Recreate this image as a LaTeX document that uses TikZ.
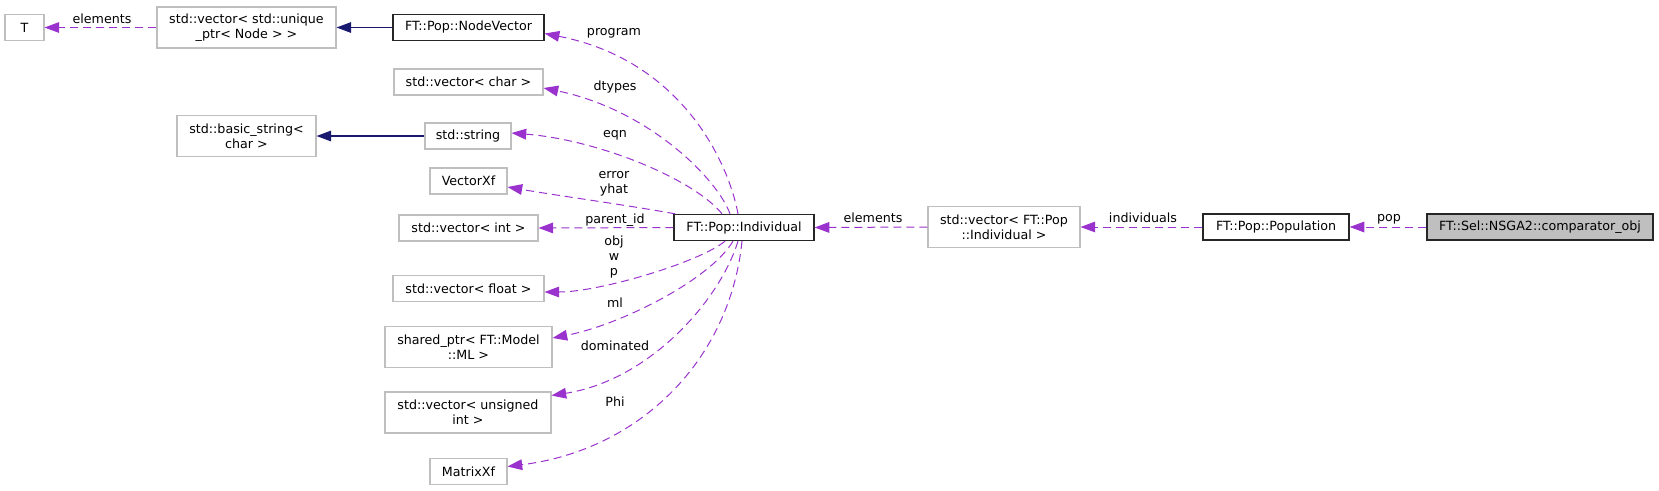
\documentclass[tikz,border=0pt]{standalone}
\usepackage{fontspec}
\setmainfont{DejaVu Sans}
\usetikzlibrary{arrows.meta,calc}
\definecolor{boxgray}{HTML}{BFBFBF}
\definecolor{dep}{HTML}{9A32CD}
\definecolor{inhblue}{HTML}{191970}
\definecolor{cmpfill}{HTML}{BFBFBF}
\newcommand{\nodefont}{\fontsize{9.5}{11}\selectfont}
\tikzset{
  box/.style={draw=boxgray, line width=0.8pt, inner sep=0pt, font=\nodefont, align=center, minimum height=19.5pt},
  twoline/.style={minimum height=30.75pt},
  bbox/.style={box, draw=black!85, line width=1pt},
  lbl/.style={font=\nodefont, inner sep=0pt, align=center},
  depedge/.style={draw=dep, line width=0.75pt, dash pattern=on 6pt off 3.75pt,
    -{Triangle[length=11pt,width=8pt,fill=dep]}},
  inhedge/.style={draw=inhblue, line width=0.8pt,
    -{Triangle[length=11pt,width=8pt,fill=inhblue]}}
}
\begin{document}
\begin{tikzpicture}[x=0.75pt,y=-0.75pt]
\useasboundingbox (0,0) rectangle (1659,490);
% nodes
\node[box, minimum width=29.25pt] (T) at (24.5,27.5) {T};
\node[box, twoline, minimum width=134.25pt] (uptr) at (246.5,27.5) {std::vector< std::unique\\\_ptr< Node > >};
\node[bbox, minimum width=113.25pt] (nv) at (468.5,27.5) {FT::Pop::NodeVector};
\node[box, minimum width=111.75pt] (vchar) at (468.5,82) {std::vector< char >};
\node[box, twoline, minimum width=104.25pt] (bs) at (246.5,136) {std::basic\_string<\\char >};
\node[box, minimum width=64.5pt] (str) at (468,136) {std::string};
\node[box, minimum width=57.75pt] (vxf) at (468.5,181) {VectorXf};
\node[box, minimum width=104.25pt] (vint) at (468.5,228) {std::vector< int >};
\node[bbox, minimum width=105pt] (ind) at (744,227.5) {FT::Pop::Individual};
\node[box, minimum width=113.25pt] (vfloat) at (468.5,288.5) {std::vector< float >};
\node[box, twoline, minimum width=125.25pt] (sptr) at (468.5,347) {shared\_ptr< FT::Model\\::ML >};
\node[box, twoline, minimum width=124.5pt] (vuint) at (468,412.5) {std::vector< unsigned\\int >};
\node[box, minimum width=57.75pt] (mxf) at (468.5,471.5) {MatrixXf};
\node[box, twoline, minimum width=114pt] (vind) at (1004,227) {std::vector< FT::Pop\\::Individual >};
\node[bbox, minimum width=109.5pt] (popn) at (1276,227) {FT::Pop::Population};
\node[bbox, fill=cmpfill, minimum width=169.5pt] (cmp) at (1540,227) {FT::Sel::NSGA2::comparator\_obj};
% labels
\node[lbl] (l-elem1) at (102,19) {elements};
\node[lbl] (l-prog) at (614,33) {program};
\node[lbl] (l-dt) at (615,87) {dtypes};
\node[lbl] (l-eqn) at (615,135) {eqn};
\node[lbl] (l-err) at (614,184) {error\\yhat};
\node[lbl] (l-pid) at (615,220) {parent\_id};
\node[lbl] (l-obj) at (614,257) {obj\\w\\p};
\node[lbl] (l-ml) at (615,303) {ml};
\node[lbl] (l-dom) at (615,346) {dominated};
\node[lbl] (l-phi) at (615,402) {Phi};
\node[lbl] (l-elem2) at (873,218) {elements};
\node[lbl] (l-indiv) at (1143,218) {individuals};
\node[lbl] (l-pop) at (1389,219) {pop};
% edges
\draw[depedge] (uptr.west) -- (T.east);
\draw[inhedge] (nv.west) -- (uptr.east);
\draw[inhedge] (str.west) -- (bs.east);
\draw[depedge] ($(ind.north)+(-6,0)$) .. controls (728,160) and (680,60) .. ($(nv.east)+(0,6)$);
\draw[depedge] ($(ind.north)+(-14,0)$) .. controls (718,180) and (650,110) .. ($(vchar.east)+(0,6)$);
\draw[depedge] ($(ind.north)+(-22,0)$) .. controls (695,180) and (600,140) .. ($(str.east)+(0,-3)$);
\draw[depedge] ($(ind.north west)+(2,0)$) .. controls (620,204) and (560,196) .. ($(vxf.east)+(0,6)$);
\draw[depedge] (ind.west) -- (vint.east);
\draw[depedge] ($(ind.south)+(-19,0)$) .. controls (700,262) and (600,292) .. ($(vfloat.east)+(0,3.5)$);
\draw[depedge] ($(ind.south)+(-11,0)$) .. controls (710,280) and (620,325) .. ($(sptr.east)+(0,-9)$);
\draw[depedge] ($(ind.south)+(-6,0)$) .. controls (720,300) and (650,380) .. ($(vuint.east)+(0,-17)$);
\draw[depedge] ($(ind.south)+(-2,0)$) .. controls (730,360) and (640,450) .. ($(mxf.east)+(0,-5)$);
\draw[depedge] (vind.west) -- (ind.east);
\draw[depedge] (popn.west) -- (vind.east);
\draw[depedge] (cmp.west) -- (popn.east);
\end{tikzpicture}
\end{document}
